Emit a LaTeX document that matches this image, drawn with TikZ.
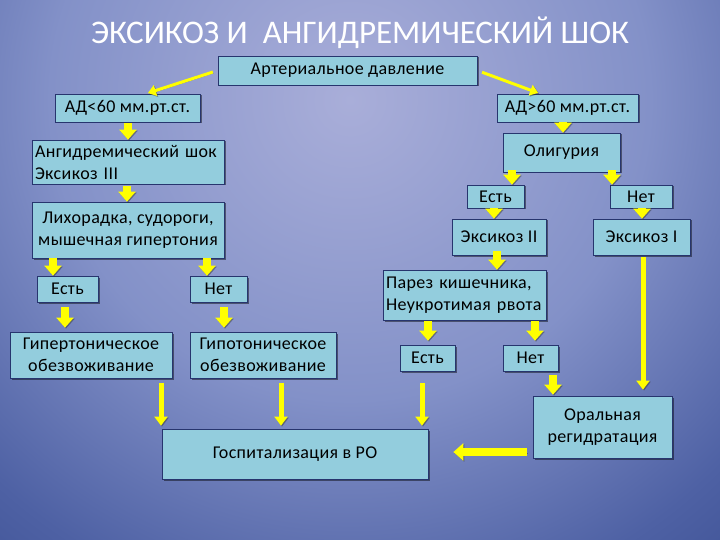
\documentclass[tikz,border=0pt]{standalone}
\usepackage{fontspec}
\setmainfont{Carlito}[LetterSpace=2]
\newfontfamily\titlefont{Carlito}
\usetikzlibrary{arrows.meta,shadows,calc}
\definecolor{bgl}{HTML}{A9AED9}
\definecolor{bgm}{HTML}{8391C8}
\definecolor{bgn}{HTML}{4E61A4}
\definecolor{bgo}{HTML}{2A3E82}
\definecolor{bgd}{HTML}{1E3175}
\definecolor{boxf}{HTML}{93CDDD}
\definecolor{boxd}{HTML}{27356E}
\definecolor{arr}{HTML}{FFFF00}
\pgfdeclareradialshading{bgshade}{\pgfpoint{0bp}{0bp}}{color(0bp)=(bgl); color(7.5bp)=(bgm); color(13bp)=(bgn); color(19bp)=(bgo); color(23bp)=(bgd); color(50bp)=(bgd)}
\tikzset{
  box/.style={draw=boxd, fill=boxf, line width=0.7pt, inner sep=3pt, text=black,
    font=\fontsize{18}{22}\selectfont, align=center,
    drop shadow={shadow xshift=1.5pt, shadow yshift=-1.5pt, opacity=0.45, fill=black}},
  ashadow/.style={preaction={draw=black!80, opacity=0.45, transform canvas={xshift=1pt, yshift=-1pt}}},
  blk/.style={draw=arr, line width=8pt, -{Triangle[width=17pt,length=10pt]}, ashadow},
  thin/.style={draw=arr, line width=5pt, -{Triangle[width=13pt,length=9pt]}, ashadow},
  diag/.style={draw=arr, line width=3pt, -{Triangle[width=11pt,length=8pt]}, ashadow},
}
\begin{document}
\begin{tikzpicture}[x=1pt,y=-1pt]
\useasboundingbox (0,0) rectangle (720,540);
\begin{scope}
\clip (0,0) rectangle (720,540);
\shade[shading=bgshade] (350,100) circle (1000);
\end{scope}

\node[text=white, font=\titlefont\fontsize{33}{40}\selectfont] (title) at (360,33) {ЭКСИКОЗ И\ \ АНГИДРЕМИЧЕСКИЙ ШОК};

\node[box, minimum width=259, minimum height=29] (art) at (347.5,70.5) {Артериальное давление};
\node[box, minimum width=145, minimum height=28] (ad1) at (127.5,108) {АД<60 мм.рт.ст.};
\node[box, minimum width=141, minimum height=28] (ad2) at (567.5,108) {АД>60 мм.рт.ст.};
\node[box, minimum width=192, minimum height=44, text width=186, align=left] (ang) at (128,162) {Ангидремический шок\\Эксикоз III};
\node[box, minimum width=117, minimum height=39] (olig) at (561.5,152.5) {Олигурия};
\node[box, minimum width=57, minimum height=23] (est1) at (495.5,196.5) {Есть};
\node[box, minimum width=62, minimum height=23] (net1) at (641,196.5) {Нет};
\node[box, minimum width=192, minimum height=56] (lih) at (128,230) {Лихорадка, судороги,\\мышечная гипертония};
\node[box, minimum width=94, minimum height=36] (eks2) at (499,237) {Эксикоз II};
\node[box, minimum width=97, minimum height=36] (eks1) at (641.5,237) {Эксикоз I};
\node[box, minimum width=61, minimum height=26] (est2) at (67.5,289) {Есть};
\node[box, minimum width=57, minimum height=26] (net2) at (218.5,289) {Нет};
\node[box, minimum width=163, minimum height=50, text width=157, align=left] (par) at (464.5,295) {Парез кишечника,\\Неукротимая рвота};
\node[box, minimum width=162, minimum height=46] (giper) at (91,355) {Гипертоническое\\обезвоживание};
\node[box, minimum width=146, minimum height=46] (gipo) at (263,355) {Гипотоническое\\обезвоживание};
\node[box, minimum width=55, minimum height=26] (est3) at (427.5,358) {Есть};
\node[box, minimum width=55, minimum height=26] (net3) at (530.5,358) {Нет};
\node[box, minimum width=139, minimum height=62] (oral) at (602.5,427) {Оральная\\регидратация};
\node[box, minimum width=266, minimum height=50] (gosp) at (295,454) {Госпитализация в РО};

% diagonal arrows
\draw[diag, shorten <=5pt, shorten >=2pt] (art.west) -- (ad1.north -| 146,0);
\draw[diag, shorten <=5pt, shorten >=2pt] (art.east) -- (ad2.north -| 540,0);

% block arrows
\draw[blk, shorten <=1pt] (ad1.south -| 128,0) -- (ang.north -| 128,0);
\draw[blk, shorten <=2pt] (ang.south -| 127,0) -- (lih.north -| 127,0);
\draw[blk] (lih.south -| 53,0) -- (est2.north -| 53,0);
\draw[blk] (lih.south -| 207,0) -- (net2.north -| 207,0);
\draw[blk, shorten <=5pt, shorten >=4pt] (est2.south -| 65,0) -- (giper.north -| 65,0);
\draw[blk, shorten <=5pt, shorten >=4pt] (net2.south -| 224,0) -- (gipo.north -| 224,0);
\draw[blk] (ad2.south -| 563,0) -- (olig.north -| 563,0);
\draw[blk, shorten <=-2pt] (olig.south -| 512,0) -- (est1.north -| 512,0);
\draw[blk, shorten <=-2pt] (olig.south -| 612,0) -- (net1.north -| 612,0);
\draw[blk] (est1.south -| 494,0) -- (eks2.north -| 494,0);
\draw[blk] (net1.south -| 642,0) -- (eks1.north -| 642,0);
\draw[blk, shorten <=-4pt] (eks2.south -| 497,0) -- (par.north -| 497,0);
\draw[blk, shorten <=1pt, shorten >=4pt] (par.south -| 428,0) -- (est3.north -| 428,0);
\draw[blk, shorten <=1pt, shorten >=4pt] (par.south -| 535,0) -- (net3.north -| 535,0);
\draw[blk, shorten <=4pt, shorten >=1pt] (net3.south -| 553,0) -- (oral.north -| 553,0);
\draw[blk, shorten <=6pt, shorten >=25pt] (oral.west |- 0,452) -- (gosp.east |- 0,452);

% long arrows
\draw[thin, shorten <=5pt, shorten >=3pt] (giper.south -| 161,0) -- (gosp.north -| 161,0);
\draw[thin, shorten <=5pt, shorten >=3pt] (gipo.south -| 281,0) -- (gosp.north -| 281,0);
\draw[thin, shorten <=12pt, shorten >=3pt] (est3.south -| 422,0) -- (gosp.north -| 422,0);
\draw[thin, shorten <=2pt, shorten >=6pt] (eks1.south -| 643,0) -- (oral.north -| 643,0);
\end{tikzpicture}
\end{document}
